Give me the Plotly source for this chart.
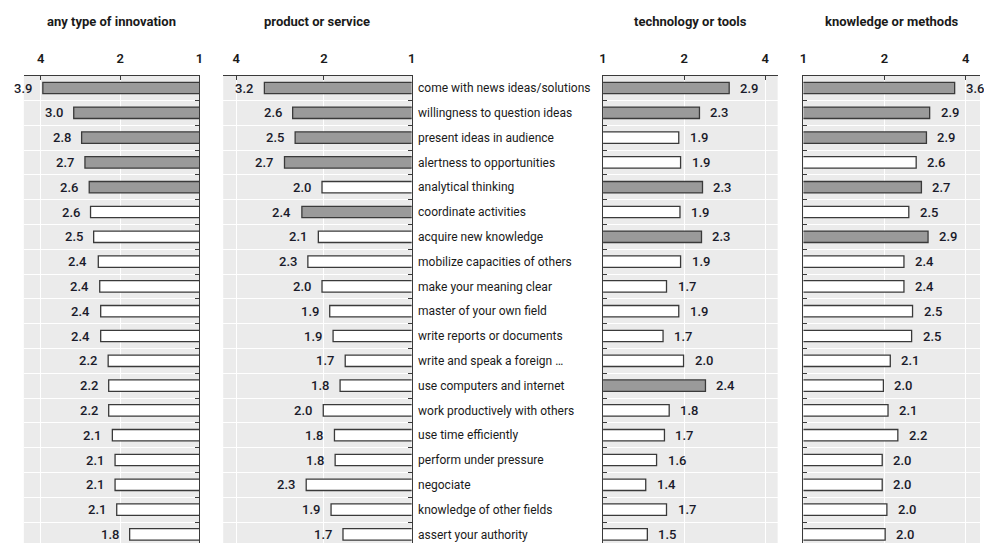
import math
import plotly.graph_objects as go

categories = [
    "come with news ideas/solutions", "willingness to question ideas", "present ideas in audience",
    "alertness to opportunities", "analytical thinking", "coordinate activities", "acquire new knowledge",
    "mobilize capacities of others", "make your meaning clear", "master of your own field",
    "write reports or documents", "write and speak a foreign \u2026", "use computers and internet",
    "work productively with others", "use time efficiently", "perform under pressure", "negociate",
    "knowledge of other fields", "assert your authority",
]

panel_titles = ["any type of innovation", "product or service", "technology or tools", "knowledge or methods"]

any_type = [3.93, 3.00, 2.80, 2.72, 2.62, 2.59, 2.52, 2.42, 2.39, 2.37, 2.37, 2.22, 2.21, 2.21, 2.14, 2.09, 2.09, 2.06, 1.84]
any_type_hl = [1, 1, 1, 1, 1, 0, 0, 0, 0, 0, 0, 0, 0, 0, 0, 0, 0, 0, 0]

product = [3.20, 2.56, 2.51, 2.73, 2.03, 2.38, 2.09, 2.27, 2.03, 1.91, 1.86, 1.69, 1.76, 2.01, 1.84, 1.83, 2.30, 1.89, 1.72]
product_hl = [1, 1, 1, 1, 0, 1, 0, 0, 0, 0, 0, 0, 0, 0, 0, 0, 0, 0, 0]

technology = [2.94, 2.28, 1.91, 1.94, 2.34, 1.93, 2.32, 1.94, 1.72, 1.91, 1.67, 1.99, 2.40, 1.76, 1.69, 1.58, 1.44, 1.72, 1.46]
technology_hl = [1, 1, 0, 0, 1, 0, 1, 0, 0, 0, 0, 0, 1, 0, 0, 0, 0, 0, 0]

knowledge = [3.64, 2.94, 2.86, 2.62, 2.74, 2.46, 2.90, 2.36, 2.36, 2.54, 2.52, 2.10, 1.98, 2.06, 2.24, 1.96, 1.96, 2.04, 2.01]
knowledge_hl = [1, 1, 1, 0, 1, 0, 1, 0, 0, 0, 0, 0, 0, 0, 0, 0, 0, 0, 0]

tick_vals = [1, 2, 4]
tick_text = ["1", "2", "4"]

W, H = 984, 543
FONT = "Roboto"
GRAY = "#9a9a9a"
EDGE = "#3a3a3a"

panels = [
    (any_type, any_type_hl, (20, 197), 4.64, True),
    (product, product_hl, (221, 411), 4.43, True),
    (technology, technology_hl, (604, 780), 4.45, False),
    (knowledge, knowledge_hl, (806, 984), 4.52, False),
]

plot_top = 75.6
row_step = 24.8
y_bottom_index = (H - (plot_top + row_step / 2)) / row_step

fig = go.Figure()
annotations = []
for i, (vals, hl, (x0, x1), xmax, reverse) in enumerate(panels):
    n = i + 1
    xa = "x" if n == 1 else f"x{n}"
    ya = "y" if n == 1 else f"y{n}"
    fig.add_trace(go.Bar(
        x=vals, y=categories, orientation="h",
        marker=dict(color=[GRAY if h else "white" for h in hl], line=dict(color=EDGE, width=1.3)),
        width=0.46, xaxis=xa, yaxis=ya, showlegend=False, cliponaxis=True,
    ))
    xrange = [math.log10(xmax), 0] if reverse else [0, math.log10(xmax)]
    fig.update_layout(**{
        ("xaxis" if n == 1 else f"xaxis{n}"): dict(
            type="log", range=xrange, domain=[x0 / W, x1 / W], side="top",
            anchor=ya, tickvals=tick_vals, ticktext=tick_text,
            ticks="inside", ticklen=4, tickcolor=EDGE, showline=True, linecolor=EDGE, linewidth=1,
            showgrid=True, gridcolor="white", gridwidth=1, zeroline=False,
            tickfont=dict(family=FONT, size=13, color="#1a1a1a", weight=600),
            ticklabelstandoff=6, fixedrange=True,
        ),
        ("yaxis" if n == 1 else f"yaxis{n}"): dict(
            type="category", categoryorder="array", categoryarray=categories,
            range=[y_bottom_index, -0.5], domain=[0, 1 - plot_top / H], anchor=xa,
            side="right" if reverse else "left",
            showticklabels=(n == 2), tickson="boundaries", ticks="inside", ticklen=4,
            tickcolor=EDGE, showline=True, linecolor=EDGE, linewidth=1,
            showgrid=True, gridcolor="white", gridwidth=1, zeroline=False,
            tickfont=dict(family=FONT, size=12, color="#1a1a1a"),
            ticklabelstandoff=3, fixedrange=True,
        ),
    })
    for cat, v in zip(categories, vals):
        annotations.append(dict(
            x=math.log10(v), y=cat, xref=xa, yref=ya, text=f"{v:.1f}", showarrow=False,
            xanchor="right" if reverse else "left", xshift=-9 if reverse else 9,
            font=dict(family=FONT, size=13, color="#1a1a2a", weight=500),
        ))
    annotations.append(dict(
        x=(x0 + x1) / 2 / W, y=1 - 21 / H, xref="paper", yref="paper", text=panel_titles[i],
        showarrow=False, xanchor="center", yanchor="middle",
        font=dict(family=FONT, size=13, color="#1a1a1a", weight="bold"),
    ))

fig.update_layout(
    width=W, height=H, margin=dict(l=0, r=0, t=0, b=0),
    paper_bgcolor="white", plot_bgcolor="#ebebeb",
    annotations=annotations, bargap=0.5,
)

fig.write_html("out.html", config={"displayModeBar": False})
